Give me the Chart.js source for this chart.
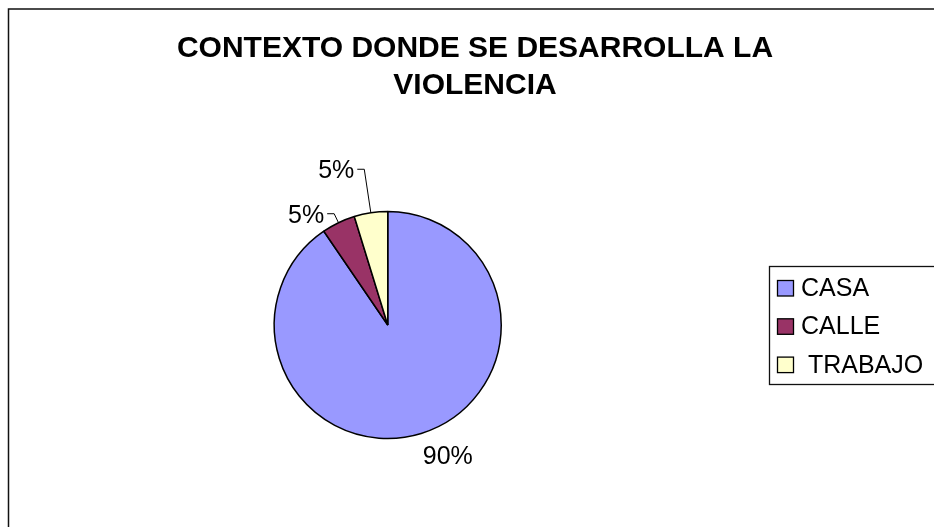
<!DOCTYPE html>
<html>
<head>
<meta charset="utf-8">
<script src="https://cdn.jsdelivr.net/npm/chart.js@4.4.0/dist/chart.umd.min.js"></script>
<style>
  html, body { margin: 0; padding: 0; background: #fff; overflow: hidden; }
  canvas { display: block; }
</style>
</head>
<body>
<canvas id="pieChart" width="934" height="527"></canvas>
<script>
// Chart data
const titleLines = ['CONTEXTO DONDE SE DESARROLLA LA', 'VIOLENCIA'];
const categories = ['CASA', 'CALLE', ' TRABAJO'];
const counts = [19, 1, 1];
const sliceColors = ['#9999FF', '#993366', '#FFFFCC'];

const FONT = '"Liberation Sans", Arial, sans-serif';

// white page + chart frame (cut off on the right and bottom like the original)
const framePlugin = {
    id: 'frame',
    beforeDraw(chart) {
        const ctx = chart.ctx;
        ctx.save();
        ctx.fillStyle = '#fff';
        ctx.fillRect(0, 0, chart.width, chart.height);
        ctx.strokeStyle = '#111';
        ctx.lineWidth = 1.5;
        ctx.beginPath();
        ctx.moveTo(8.5, chart.height + 5);
        ctx.lineTo(8.5, 9);
        ctx.lineTo(chart.width + 5, 9);
        ctx.stroke();
        ctx.restore();
    }
};

// two-line bold title, centered on the full frame width
const titlePlugin = {
    id: 'bigTitle',
    afterDraw(chart) {
        const ctx = chart.ctx;
        ctx.save();
        ctx.font = 'bold 30px ' + FONT;
        ctx.fillStyle = '#000';
        ctx.textAlign = 'center';
        ctx.textBaseline = 'alphabetic';
        titleLines.forEach((line, i) => ctx.fillText(line, 475, 57 + i * 37));
        ctx.restore();
    }
};

// percentage labels, small slices get a leader line
const labelPlugin = {
    id: 'pctLabels',
    afterDatasetsDraw(chart, args, opts) {
        const ctx = chart.ctx;
        const meta = chart.getDatasetMeta(0);
        const total = counts.reduce((a, b) => a + b, 0);
        ctx.save();
        ctx.font = '25px ' + FONT;
        ctx.fillStyle = '#000';
        ctx.strokeStyle = '#000';
        ctx.lineWidth = 1;
        meta.data.forEach((arc, i) => {
            const p = arc.getProps(['x', 'y', 'startAngle', 'endAngle', 'outerRadius'], true);
            const mid = (p.startAngle + p.endAngle) / 2;
            const dx = Math.cos(mid), dy = Math.sin(mid);
            const text = Math.round(counts[i] / total * 100) + '%';
            const lay = opts.layout[i];
            if (lay.lead == null) {
                ctx.textAlign = 'center';
                ctx.textBaseline = 'middle';
                ctx.fillText(text, p.x + dx * lay.dist + lay.dx, p.y + dy * lay.dist + lay.dy);
            } else {
                const ex = p.x + dx * p.outerRadius, ey = p.y + dy * p.outerRadius;
                const r2 = p.outerRadius + lay.lead;
                const bx = p.x + dx * r2, by = p.y + dy * r2;
                ctx.beginPath();
                ctx.moveTo(ex, ey);
                ctx.lineTo(bx, by);
                ctx.lineTo(bx - 7, by);
                ctx.stroke();
                ctx.textAlign = 'right';
                ctx.textBaseline = 'middle';
                ctx.fillText(text, bx - 10, by + 2);
            }
        });
        ctx.restore();
    }
};

// boxed legend on the right
const boxLegendPlugin = {
    id: 'boxLegend',
    afterDraw(chart) {
        const ctx = chart.ctx;
        const colors = chart.data.datasets[0].backgroundColor;
        ctx.save();
        ctx.strokeStyle = '#111';
        ctx.lineWidth = 1.3;
        ctx.strokeRect(769.5, 266.5, 200, 118);
        ctx.font = '25px ' + FONT;
        ctx.textAlign = 'left';
        ctx.textBaseline = 'alphabetic';
        chart.data.labels.forEach((lab, i) => {
            const top = 280.5 + i * 38.3;
            ctx.fillStyle = colors[i];
            ctx.fillRect(777.5, top, 16, 15.5);
            ctx.strokeStyle = '#000';
            ctx.lineWidth = 1.3;
            ctx.strokeRect(777.5, top, 16, 15.5);
            ctx.fillStyle = '#000';
            ctx.fillText(lab, 801, top + 15.5);
        });
        ctx.restore();
    }
};

const ctx = document.getElementById('pieChart').getContext('2d');
new Chart(ctx, {
    type: 'pie',
    data: {
        labels: categories,
        datasets: [{
            data: counts,
            backgroundColor: sliceColors,
            borderColor: '#000',
            borderWidth: 1.5,
            hoverOffset: 0
        }]
    },
    options: {
        responsive: false,
        animation: false,
        devicePixelRatio: 1,
        layout: { padding: { left: 273.5, right: 432, top: 210.75, bottom: 87.75 } },
        plugins: {
            legend: { display: false },
            title: { display: false },
            tooltip: { enabled: false },
            pctLabels: {
                layout: [
                    { lead: null, dist: 146, dx: 17, dy: -7 },
                    { lead: 10 },
                    { lead: 44 }
                ]
            }
        }
    },
    plugins: [framePlugin, titlePlugin, labelPlugin, boxLegendPlugin]
});
</script>
</body>
</html>
